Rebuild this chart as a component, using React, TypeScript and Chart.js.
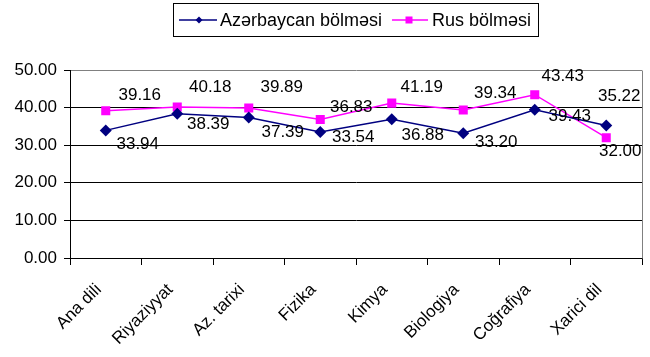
import React, { useEffect, useRef } from "react";
import { Chart, registerables } from "chart.js";

Chart.register(...registerables);

// ---- data ----
const categories = ["Ana dili", "Riyaziyyat", "Az. tarixi", "Fizika", "Kimya", "Biologiya", "Coğrafiya", "Xarici dil"];
const azerbaycanValues = [33.94, 38.39, 37.39, 33.54, 36.88, 33.2, 39.43, 35.22];
const rusValues = [39.16, 40.18, 39.89, 36.83, 41.19, 39.34, 43.43, 32.0];
const seriesNames = ["Azərbaycan bölməsi", "Rus bölməsi"];
const yMin = 0;
const yMax = 50;
const yStep = 10;

// ---- styling (label offsets in px, relative to the point) ----
const AZ_COLOR = "#000080";
const RUS_COLOR = "#FF00FF";
const FONT = "'Liberation Sans', Arial, sans-serif";
const azLabelOffsets = [[32, 14], [31, 11], [34, 15], [33, 5], [31, 16], [33, 9], [35, 7], [13, -29]];
const rusLabelOffsets = [[34, -15], [33, -20], [33, -21], [31, -12], [30, -16], [32, -17], [28, -18], [14, 14]];

const dataLabelPlugin = {
  id: "dataLabels",
  afterDatasetsDraw(chart: any) {
    const ctx = chart.ctx;
    ctx.save();
    ctx.font = `17px ${FONT}`;
    ctx.fillStyle = "#000";
    ctx.textAlign = "center";
    ctx.textBaseline = "middle";
    chart.data.datasets.forEach((ds: any, di: number) => {
      const meta = chart.getDatasetMeta(di);
      const offs = di === 0 ? azLabelOffsets : rusLabelOffsets;
      meta.data.forEach((pt: any, i: number) => {
        const [dx, dy] = offs[i];
        ctx.fillText(Number(ds.data[i]).toFixed(2), pt.x + dx, pt.y + dy);
      });
    });
    ctx.restore();
  },
};

const framePlugin = {
  id: "frame",
  afterDraw(chart: any) {
    const { ctx, chartArea } = chart;
    ctx.save();
    ctx.strokeStyle = "#808080";
    ctx.lineWidth = 1;
    ctx.beginPath();
    const x = Math.round(chartArea.right) + 0.5;
    ctx.moveTo(x, Math.round(chartArea.top) + 0.5);
    ctx.lineTo(x, Math.round(chartArea.bottom) + 0.5);
    ctx.stroke();

    // rotated x labels
    const xs = chart.scales.x;
    ctx.font = `17px ${FONT}`;
    ctx.fillStyle = "#000";
    ctx.textAlign = "right";
    ctx.textBaseline = "middle";
    categories.forEach((c, i) => {
      const px = xs.getPixelForValue(i);
      const ax = px - 7;
      const ay = xs.top + 29;
      ctx.save();
      ctx.translate(ax, ay);
      ctx.rotate(-Math.PI / 4);
      ctx.fillText(c, 0, 0);
      ctx.restore();
    });

    // legend
    const bx = 173, by = 3, bw = 365, bh = 33;
    ctx.strokeStyle = "#000";
    ctx.lineWidth = 1;
    ctx.strokeRect(bx + 0.5, by + 0.5, bw, bh);
    const cy = by + bh / 2 + 0.5;
    ctx.lineWidth = 1.5;
    // series 1
    ctx.strokeStyle = AZ_COLOR;
    ctx.beginPath();
    ctx.moveTo(179, cy);
    ctx.lineTo(217, cy);
    ctx.stroke();
    ctx.fillStyle = AZ_COLOR;
    ctx.beginPath();
    ctx.moveTo(199, cy - 3.5);
    ctx.lineTo(202.5, cy);
    ctx.lineTo(199, cy + 3.5);
    ctx.lineTo(195.5, cy);
    ctx.closePath();
    ctx.fill();
    // series 2
    ctx.strokeStyle = RUS_COLOR;
    ctx.beginPath();
    ctx.moveTo(392, cy);
    ctx.lineTo(428, cy);
    ctx.stroke();
    ctx.fillStyle = RUS_COLOR;
    ctx.fillRect(405.5, cy - 3.5, 7, 7);
    ctx.fillStyle = "#000";
    ctx.font = `18px ${FONT}`;
    ctx.textAlign = "left";
    ctx.textBaseline = "middle";
    ctx.fillText(seriesNames[0], 220, cy + 1);
    ctx.fillText(seriesNames[1], 432, cy + 1);
    ctx.restore();
  },
};

export default function App() {
  const canvasRef = useRef<HTMLCanvasElement | null>(null);

  useEffect(() => {
    if (!canvasRef.current) return;
    const chart = new Chart(canvasRef.current, {
      type: "line",
      data: {
        labels: categories,
        datasets: [
          {
            label: seriesNames[0],
            data: azerbaycanValues,
            borderColor: AZ_COLOR,
            backgroundColor: AZ_COLOR,
            borderWidth: 1.5,
            pointStyle: "rectRot",
            pointRadius: 6,
            pointBorderWidth: 0,
            tension: 0,
          },
          {
            label: seriesNames[1],
            data: rusValues,
            borderColor: RUS_COLOR,
            backgroundColor: RUS_COLOR,
            borderWidth: 1.5,
            pointStyle: "rect",
            pointRadius: 6.4,
            pointBorderWidth: 0,
            tension: 0,
          },
        ],
      },
      options: {
        responsive: false,
        animation: false,
        layout: { padding: { top: 70, right: 8, left: 0, bottom: 0 } },
        plugins: {
          legend: { display: false },
          tooltip: { enabled: false },
        },
        scales: {
          x: {
            offset: true,
            grid: {
              offset: true,
              drawOnChartArea: false,
              drawTicks: true,
              tickLength: 7,
              color: "#000",
            },
            border: { display: true, color: "#000", width: 1 },
            ticks: { display: false },
            afterFit: (scale: any) => {
              scale.height = 99;
            },
          },
          y: {
            min: yMin,
            max: yMax,
            grid: {
              color: (c: any) => (c.tick && c.tick.value === yMax ? "#808080" : "#000"),
              tickColor: "#000",
              tickLength: 6,
              lineWidth: 1,
            },
            border: { display: true, color: "#000", width: 1 },
            ticks: {
              stepSize: yStep,
              padding: 7,
              color: "#000",
              font: { family: FONT, size: 17 },
              callback: (v: any) => Number(v).toFixed(2),
            },
            afterFit: (scale: any) => {
              scale.width = 70;
            },
          },
        },
      },
      plugins: [dataLabelPlugin, framePlugin],
    });
    return () => chart.destroy();
  }, []);

  return (
    <div style={{ position: "fixed", left: 0, top: 0, width: 650, height: 357, background: "#fff" }}>
      <canvas ref={canvasRef} width={650} height={357} />
    </div>
  );
}
